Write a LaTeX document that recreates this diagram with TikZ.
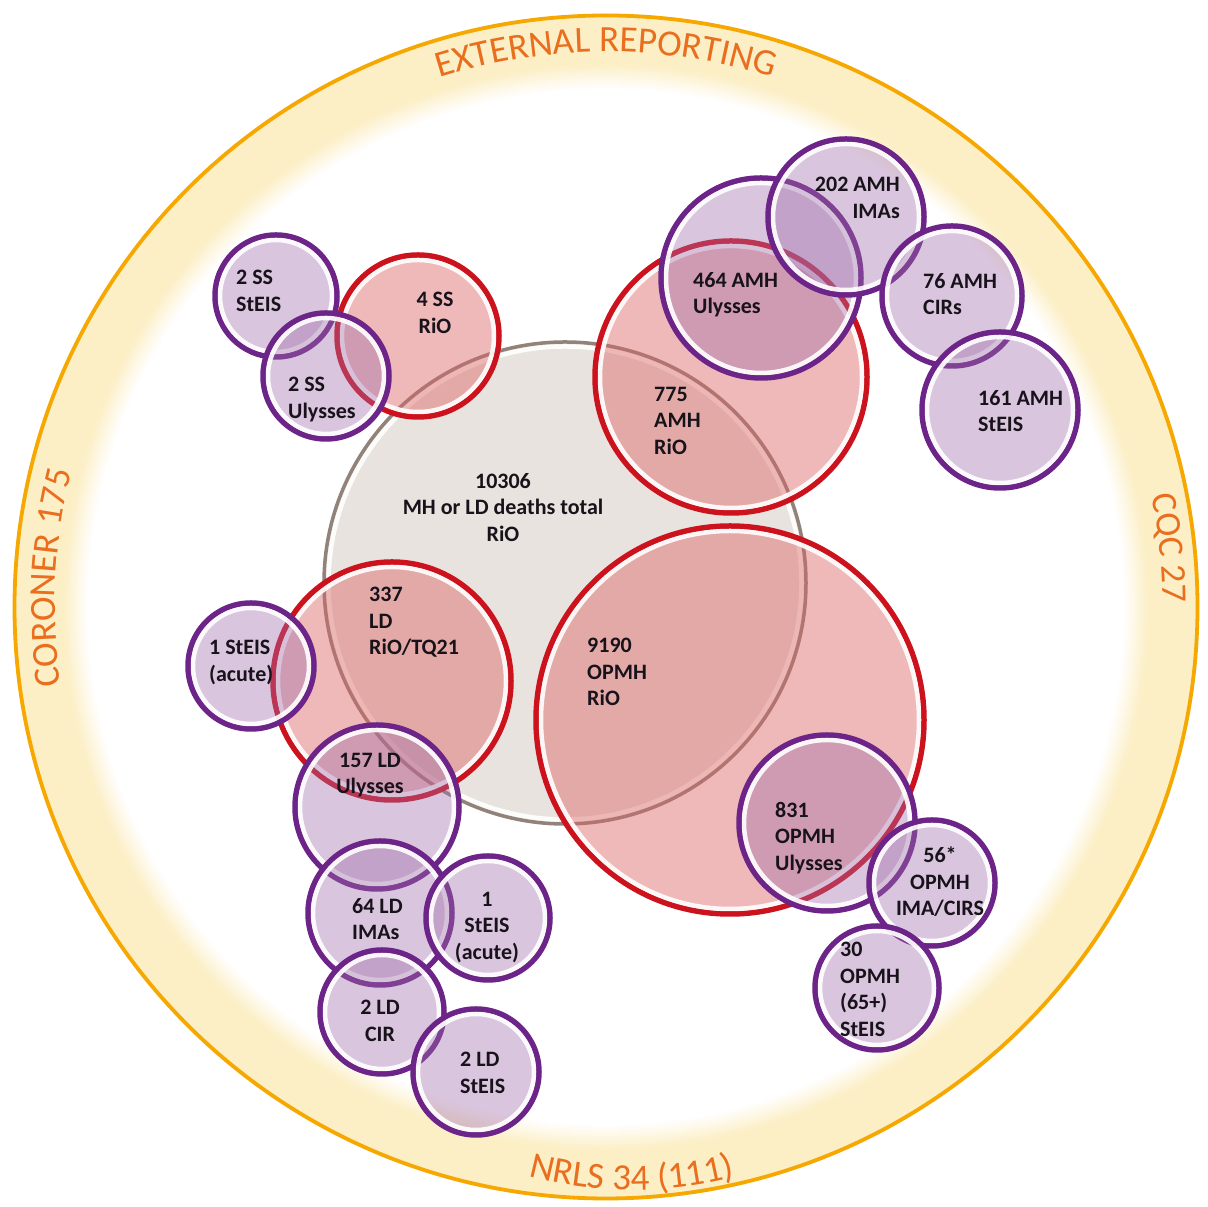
\documentclass[tikz,border=0pt]{standalone}
\usepackage{fontspec}
\setmainfont{Carlito}
\newfontfamily\ringfont{Carlito}
\usetikzlibrary{decorations.text}
\definecolor{ringfill}{RGB}{252,239,198}
\definecolor{ringline}{RGB}{246,168,0}
\definecolor{ringtext}{RGB}{233,110,30}
\definecolor{pstroke}{RGB}{108,36,136}
\definecolor{pfill}{RGB}{160,110,170}
\definecolor{rstroke}{RGB}{204,18,28}
\definecolor{rfill}{RGB}{220,100,100}
\definecolor{gstroke}{RGB}{145,130,122}
\definecolor{gfill}{RGB}{232,227,223}
\definecolor{lbltext}{RGB}{24,18,26}
\tikzset{
  pbub/.style={circle, inner sep=0, draw=pstroke, line width=5.5, fill=pfill, fill opacity=0.4},
  rbub/.style={circle, inner sep=0, draw=rstroke, line width=5.5, fill=rfill, fill opacity=0.45},
  gbub/.style={circle, inner sep=0, draw=gstroke, line width=3.5, fill=gfill},
  innerring/.style={draw=white, line width=4.5, draw opacity=0.9},
  lbl/.style={inner sep=0, text=lbltext, font=\bfseries\fontsize{22}{26.5}\selectfont},
  ringlbl/.style={decorate, decoration={text along path, text align=center, text color=ringtext}},
}
% name, x, y, outer radius, style
\newcommand\bub[5]{%
  \node[#5, minimum size={2*(#4-3)}] (#1) at (#2,#3) {};
  \draw[innerring] (#1.center) circle ({#4-8});
}
\begin{document}
\begin{tikzpicture}[x=1pt,y=1pt]
\fill[white] (0,0) rectangle (1208,1207);
\useasboundingbox (0,0) rectangle (1208,1207);
\coordinate (O) at (606,600);
\coordinate (N0) at (632,417);
% outer reporting ring with soft inner edge
\fill[ringfill] (O) circle (593);
\fill[white] (O) circle (518);
\foreach \i [evaluate=\i as \p using int(\i*4)] in {0,...,24}
  {\draw[ringfill!\p!white, line width=1.6] (O) circle ({518+\i});}
\draw[ringline, line width=3.8] (O) circle (591.5);
\path[ringlbl, decoration={text={|\ringfont\fontsize{37}{40}\selectfont|EXTERNAL REPORTING}}]
  (O) ++(150:555) arc[start angle=150, end angle=30, radius=555];
\path[ringlbl, decoration={text={|\ringfont\fontsize{37}{40}\selectfont|CORONER 175}}]
  (O) ++(197:551) arc[start angle=197, end angle=157, radius=551];
\path[ringlbl, decoration={text={|\ringfont\fontsize{36}{40}\selectfont|CQC 27}}]
  (O) ++(26:557) arc[start angle=26, end angle=-14, radius=557];
\path[ringlbl, decoration={text={|\ringfont\fontsize{37}{40}\selectfont|NRLS 34 (111)}}]
  (N0) ++(235:400) arc[start angle=235, end angle=305, radius=400];
% grey total circle
\node[gbub, minimum size={2*(243-2)}] (tot) at (565,624) {};
\draw[innerring] (tot.center) circle (236.5);
% red RiO circles
\bub{amhR}{731}{830}{139}{rbub}
\bub{opR}{730}{487}{197}{rbub}
\bub{ldR}{392}{526}{122}{rbub}
\bub{ssR}{418}{871}{84}{rbub}
% purple circles
\bub{ssS}{276}{911}{64}{pbub}
\bub{ssU}{326}{831}{66}{pbub}
\bub{amhU}{761}{929}{103}{pbub}
\bub{amhI}{846}{990}{81}{pbub}
\bub{amhC}{952}{911}{73}{pbub}
\bub{amhS}{1000}{797}{81}{pbub}
\bub{ldS1}{251}{541}{66}{pbub}
\bub{ldU}{377}{400}{85}{pbub}
\bub{ldI}{380}{294}{75}{pbub}
\bub{ldS2}{488}{289}{65}{pbub}
\bub{ldC}{382}{195}{65}{pbub}
\bub{ldS3}{476}{135}{66}{pbub}
\bub{opU}{827}{384}{91}{pbub}
\bub{opI}{932}{324}{66}{pbub}
\bub{opS}{877}{219}{65}{pbub}
% labels
\node[lbl, align=left, anchor=north west] (t-ssS) at (236,937) {2 SS\\StEIS};
\node[lbl, align=center, anchor=north] (t-ssR) at (435,915) {4 SS\\RiO};
\node[lbl, align=left, anchor=north west] (t-ssU) at (288,830) {2 SS\\Ulysses};
\node[lbl, align=right, anchor=north east] (t-amhI) at (900,1030) {202 AMH\\IMAs};
\node[lbl, align=left, anchor=north west] (t-amhU) at (693,935) {464 AMH\\Ulysses};
\node[lbl, align=left, anchor=north west] (t-amhC) at (923,934) {76 AMH\\CIRs};
\node[lbl, align=left, anchor=north west] (t-amhS) at (978,817) {161 AMH\\StEIS};
\node[lbl, align=left, anchor=north west] (t-amhR) at (654,820) {775\\AMH\\RiO};
\node[lbl, align=center, anchor=north] (t-tot) at (503,734) {10306\\MH or LD deaths total\\RiO};
\node[lbl, align=left, anchor=north west] (t-ldR) at (369,620) {337\\LD\\RiO/TQ21};
\node[lbl, align=left, anchor=north west] (t-ldS1) at (209,567) {1 StEIS\\(acute)};
\node[lbl, align=center, anchor=north] (t-ldU) at (370,454) {157 LD\\Ulysses};
\node[lbl, align=left, anchor=north west] (t-opR) at (587,569) {9190\\OPMH\\RiO};
\node[lbl, align=left, anchor=north west] (t-opU) at (775,405) {831\\OPMH\\Ulysses};
\node[lbl, align=center, anchor=north] (t-opI) at (940,360) {56*\\OPMH\\IMA/CIRS};
\node[lbl, align=left, anchor=north west] (t-opS) at (840,265) {30\\OPMH\\(65+)\\StEIS};
\node[lbl, align=left, anchor=north west] (t-ldI) at (352,309) {64 LD\\IMAs};
\node[lbl, align=center, anchor=north] (t-ldS2) at (487,315) {1\\StEIS\\(acute)};
\node[lbl, align=center, anchor=north] (t-ldC) at (380,207) {2 LD\\CIR};
\node[lbl, align=left, anchor=north west] (t-ldS3) at (460,155) {2 LD\\StEIS};
\end{tikzpicture}
\end{document}
